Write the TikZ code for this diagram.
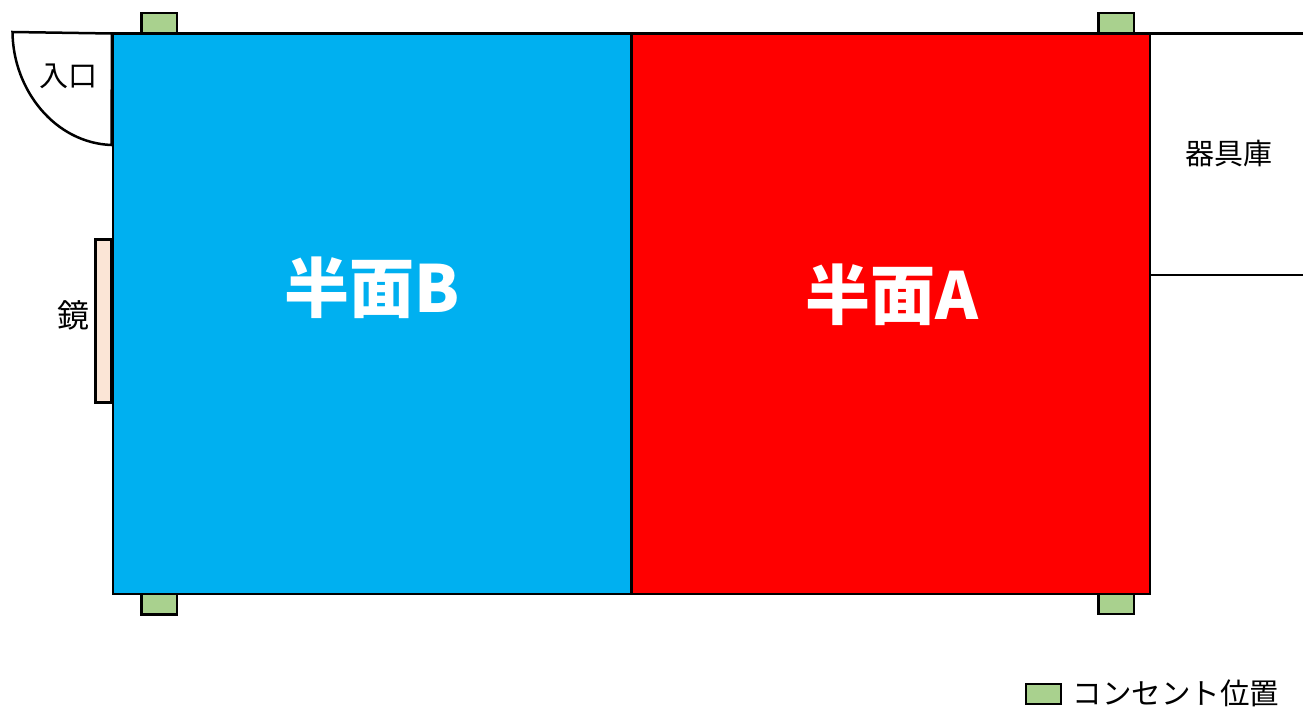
\documentclass[tikz,border=0pt]{standalone}
\usepackage{fontspec}
\setmainfont{Noto Sans CJK JP}
\definecolor{halfb}{HTML}{00B0F0}
\definecolor{halfa}{HTML}{FF0000}
\definecolor{outlet}{HTML}{A9D18E}
\definecolor{mirror}{HTML}{FBE5D6}
\tikzset{
  wall/.style={draw=black,line width=2.5pt},
  outletbox/.style={draw=black,line width=2.6pt,fill=outlet},
  lab/.style={text=black,inner sep=0pt,font=\fontsize{29}{29}\selectfont},
  big/.style={text=white,inner sep=0pt,font=\fontsize{65}{65}\selectfont\bfseries}
}
\begin{document}
\begin{tikzpicture}[x=1pt,y=-1pt]
\useasboundingbox (0,0) rectangle (1303,707);
% halves
\draw[wall,fill=halfb] (113,33.5) rectangle (631.5,594);
\draw[wall,fill=halfa] (631.5,33.5) rectangle (1150,594);
\draw[draw=black,line width=3.6pt] (631.5,33.5) -- (631.5,594);
% outlets
\draw[outletbox] (141.5,13) rectangle (177,33.5);
\draw[outletbox] (1098.5,13) rectangle (1134,33.5);
\draw[outletbox] (141.5,594) rectangle (177,614.5);
\draw[outletbox] (1098.5,594) rectangle (1134,614);
% storage lines
\draw[wall] (1150,33.5) -- (1303,33.5);
\draw[wall] (1150,275) -- (1303,275);
% door
\draw[wall,line join=miter] (12.5,32) -- (112,33.5) -- (111.5,145) .. controls (55,143) and (13,90) .. (12.5,32) -- cycle;
% mirror
\draw[draw=black,line width=2.2pt,fill=mirror] (95.5,239.5) rectangle (111.5,402.5);
% labels
\node[lab] (entry) at (68.5,76.5) {入口};
\node[lab] (store) at (1229,153.5) {器具庫};
\node[lab,font=\fontsize{32}{32}\selectfont] (mirrorlabel) at (73.5,315) {鏡};
\node[big] (labb) at (372.5,288) {半面B};
\node[big] (laba) at (892,295) {半面A};
% legend
\draw[outletbox] (1026,684) rectangle (1061,704);
\node[lab,font=\fontsize{29.5}{29.5}\selectfont] (legend) at (1176,693) {コンセント位置};
\end{tikzpicture}
\end{document}
